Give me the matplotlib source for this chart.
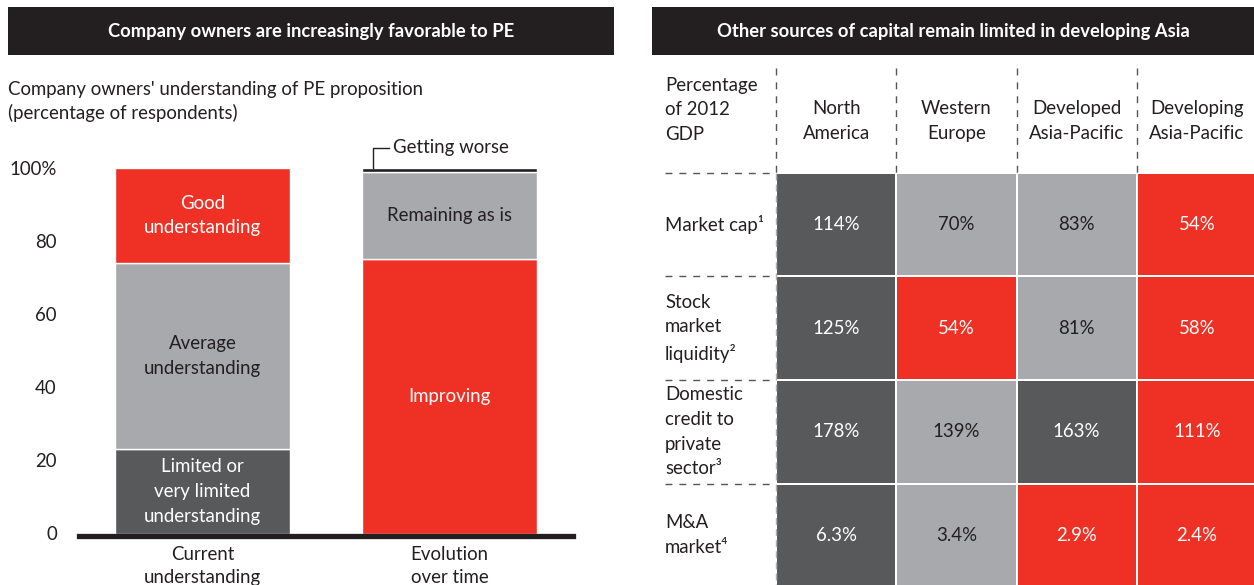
import numpy as np
import matplotlib
matplotlib.use("Agg")
import matplotlib.pyplot as plt
from matplotlib.colors import ListedColormap
from matplotlib.patches import Rectangle

plt.rcParams['font.family'] = ['Lato', 'DejaVu Sans']

# Colours
C_RED = '#EE3124'
C_DARK = '#58595B'
C_LIGHT = '#A7A9AC'
C_BLACK = '#231F20'

# Left chart data (percentage of respondents, stacked bottom to top)
bar_categories = ['Current\nunderstanding', 'Evolution\nover time']
current_labels = ['Limited or\nvery limited\nunderstanding', 'Average\nunderstanding', 'Good\nunderstanding']
current_values = [23, 51, 26]
evolution_labels = ['Improving', 'Remaining as is', 'Getting worse']
evolution_values = [75, 24, 1]
y_ticks = [0, 20, 40, 60, 80, 100]
y_tick_labels = ['0', '20', '40', '60', '80', '100%']

# Right table data (percentage of 2012 GDP)
regions = ['North\nAmerica', 'Western\nEurope', 'Developed\nAsia-Pacific', 'Developing\nAsia-Pacific']
metrics = ['Market cap\u00b9', 'Stock\nmarket\nliquidity\u00b2', 'Domestic\ncredit to\nprivate\nsector\u00b3', 'M&A\nmarket\u2074']
market_cap = [114, 70, 83, 54]
stock_liquidity = [125, 54, 81, 58]
domestic_credit = [178, 139, 163, 111]
ma_market = [6.3, 3.4, 2.9, 2.4]
# Shading tier of each cell: 0 = high, 1 = medium, 2 = low
market_cap_tier = [0, 1, 1, 2]
stock_liquidity_tier = [0, 2, 1, 2]
domestic_credit_tier = [0, 1, 0, 2]
ma_market_tier = [0, 1, 2, 2]

W, H = 1254, 585
FS = 13.4
LS = 1.55
fig = plt.figure(figsize=(W / 100, H / 100), dpi=100)


def px_box(left, top, right, bottom):
    # figure-fraction rectangle from pixel edges
    return [left / W, (H - bottom) / H, (right - left) / W, (bottom - top) / H]


# Header banners
for (l, r, title) in [(8, 614, 'Company owners are increasingly favorable to PE'),
                      (652, 1260, 'Other sources of capital remain limited in developing Asia')]:
    fig.add_artist(Rectangle(((l) / W, (H - 55) / H), (r - l) / W, 48 / H,
                             transform=fig.transFigure, color=C_BLACK, lw=0))
    fig.text((l + min(r, 1255)) / 2 / W, (H - 31) / H, title, color='white',
             fontsize=13.2, fontweight='bold', ha='center', va='center')

fig.text(8 / W, (H - 101.5) / H, "Company owners' understanding of PE proposition\n(percentage of respondents)",
         fontsize=FS, color=C_BLACK, ha='left', va='center', linespacing=1.45)

# Left stacked bars
ax = fig.add_axes(px_box(79, 168, 573, 533.5))
ax.set_xlim(-0.5, 1.5)
ax.set_ylim(0, 100)
bar_w = 0.71

stacks = [(current_values, current_labels, [C_DARK, C_LIGHT, C_RED], ['white', C_BLACK, 'white']),
          (evolution_values, evolution_labels, [C_RED, C_LIGHT, C_BLACK], ['white', C_BLACK, None])]
for i, (vals, labels, colors, tcolors) in enumerate(stacks):
    bottom = 0
    for v, lab, c, tc in zip(vals, labels, colors, tcolors):
        ax.bar(i, v, bottom=bottom, width=bar_w, color=c, edgecolor='white', linewidth=1, zorder=2)
        if tc is not None:
            ax.text(i, bottom + v / 2, lab, color=tc, fontsize=FS, ha='center', va='center',
                    linespacing=LS, zorder=3)
        bottom += v
    if i == 1:
        # leader for the thin top segment
        top = sum(vals)
        x0 = i - 0.31
        ax.plot([x0, x0, x0 + 0.065], [top, top + 5.5, top + 5.5], color=C_BLACK, lw=1, clip_on=False)
        ax.text(x0 + 0.08, top + 5.5, labels[-1], fontsize=FS, color=C_BLACK, ha='left', va='center')

ax.axhline(-0.7, color=C_BLACK, lw=3.8, zorder=4, clip_on=False)
ax.set_yticks(y_ticks)
ax.set_yticklabels(y_tick_labels)
ax.set_xticks(range(len(bar_categories)))
ax.set_xticklabels(bar_categories, linespacing=1.45)
ax.tick_params(axis='y', length=0, pad=16, labelsize=FS, labelcolor=C_BLACK)
ax.tick_params(axis='x', length=0, pad=9, labelsize=FS, labelcolor=C_BLACK)
for s in ax.spines.values():
    s.set_visible(False)

# Right table
tx = fig.add_axes(px_box(776, 173, 1257, 587))
tx.set_xlim(0, 4)
tx.set_ylim(4, 0)
tx.axis('off')

values = [market_cap, stock_liquidity, domestic_credit, ma_market]
tiers = np.array([market_cap_tier, stock_liquidity_tier, domestic_credit_tier, ma_market_tier])
tier_colors = [C_DARK, C_LIGHT, C_RED]
tx.pcolormesh(np.arange(5), np.arange(5), tiers, cmap=ListedColormap(tier_colors),
              vmin=-0.5, vmax=2.5, edgecolors='white', linewidth=1.2)
for r, row in enumerate(values):
    for c, v in enumerate(row):
        tc = C_BLACK if tiers[r, c] == 1 else 'white'
        tx.text(c + 0.5, r + 0.5, f'{v:g}%', color=tc, fontsize=FS, ha='center', va='center')

# Column headers and row labels
label_x = -0.923
for c, name in enumerate(regions):
    tx.text(c + 0.5, -0.5, name, fontsize=FS, color=C_BLACK, ha='center', va='center',
            linespacing=LS, clip_on=False)
    tx.plot([c, c], [-1.01, 0], color='#555555', lw=1, ls=(0, (5, 5)), clip_on=False)
tx.text(label_x, -0.61, 'Percentage\nof 2012\nGDP', fontsize=FS, color=C_BLACK, ha='left',
        va='center', linespacing=LS, clip_on=False)
for r, name in enumerate(metrics):
    tx.text(label_x, r + 0.5, name, fontsize=FS, color=C_BLACK, ha='left', va='center',
            linespacing=LS, clip_on=False)
    tx.plot([label_x, -0.05], [r, r], color='#555555', lw=1, ls=(0, (5, 5)), clip_on=False)
tx.plot([0, 0], [0, 4], color='#B0B0B0', lw=1, ls=(0, (5, 3)), clip_on=False)

fig.savefig('out.png', dpi=100)
